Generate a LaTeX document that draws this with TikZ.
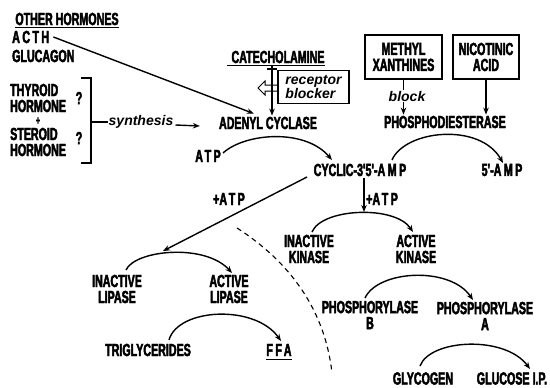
\documentclass[tikz,border=0pt]{standalone}
\usepackage{fontspec}
\usetikzlibrary{arrows.meta}
\newfontfamily\labfont{Liberation Sans}[FakeStretch=0.61, BoldFeatures={FakeBold=2.5}]
\newfontfamily\itlabfont{Liberation Sans}
\newcommand\spc[1]{{\addfontfeature{LetterSpace=14}#1}}
\begin{document}
\begin{tikzpicture}[x=1pt,y=-1pt,
 lab/.style={font=\labfont\bfseries\fontsize{17.5}{16}\selectfont, inner sep=0pt, align=center},
 itl/.style={font=\itlabfont\bfseries\itshape\fontsize{14}{13}\selectfont, inner sep=0pt, align=left},
 ln/.style={line width=1.4pt},
 arr/.style={line width=1.4pt, -{Stealth[length=7pt,width=5.5pt]}},
 box/.style={draw, line width=1.2pt},
]
\useasboundingbox (0,0) rectangle (550,388);
\fill[white] (0,0) rectangle (550,388);

% left hormones
\node[lab] (oh) at (67,19) {OTHER HORMONES};
\draw[ln] ([yshift=-2pt]oh.south west) -- ([yshift=-2pt]oh.south east);
\node[lab, anchor=west] (acth) at (12,37) {\spc{ACTH}};
\node[lab, anchor=west] (gluc) at (12,56) {GLUCAGON};
\node[lab, anchor=west] (thy) at (10,90) {THYROID};
\node[lab, anchor=west] (hor1) at (10,106) {HORMONE};
\node[lab, font=\labfont\bfseries\fontsize{12}{12}\selectfont] (plus) at (38,121) {+};
\node[lab, anchor=west] (ste) at (10,134) {STEROID};
\node[lab, anchor=west] (hor2) at (10,150) {HORMONE};
\node[lab] (q1) at (79,98) {?};
\node[lab] (q2) at (79,138) {?};
\coordinate (bt) at (81,78);
\coordinate (bb) at (81,163);
\coordinate (bm) at (91,122);
\draw[ln] (bt) -- (bt -| bm) -- (bb -| bm) -- (bb);
\node[itl] (syn) at (141,122) {synthesis};
\draw[ln] (bm) -- ([xshift=-1pt]syn.west);

% adenyl cyclase
\node[lab] (ac) at (268,123) {ADENYL CYCLASE};
\draw[arr] ([xshift=2pt,yshift=-3pt]syn.east) -- ([xshift=-19pt,yshift=-3pt]ac.west);
\draw[arr] ([xshift=4pt]acth.east) -- ([xshift=35pt,yshift=3pt]ac.north west);

% catecholamine
\node[lab] (cat) at (278,57) {CATECHOLAMINE};
\draw[ln] ([xshift=-4pt,yshift=-2pt]cat.south west) -- ([yshift=-2pt]cat.south east);
\coordinate (cv) at (272,65);
\draw[arr] (cv) -- ([yshift=1pt]cv |- ac.north);
\node[box, itl, minimum width=71pt, minimum height=33pt, inner xsep=3pt] (rb) at (313.5,87) {receptor\\blocker};
\draw[line width=1.2pt] (267,69) -- (277,69);
\draw[line width=1pt] (rb.west |- 0,85) -- (265,85) -- (265,81) -- (258,88) -- (265,95) -- (265,91) -- (rb.west |- 0,91);

% methyl xanthines / nicotinic acid
\node[box, lab, minimum width=77pt, minimum height=44pt] (mx) at (403.5,57) {METHYL\\XANTHINES};
\node[box, lab, minimum width=66pt, minimum height=44pt] (na) at (486,57) {NICOTINIC\\ACID};
\node[itl] (blk) at (407,96) {block};
\node[lab] (pde) at (445,122) {PHOSPHODIESTERASE};
\draw[ln] (mx.south) -- ([yshift=1pt]blk.north -| mx.south);
\draw[arr] ([yshift=-1pt]blk.south -| mx.south) -- ([yshift=1pt]pde.north -| mx.south);
\draw[arr] (na.south) -- ([yshift=1pt]na.south |- pde.north);

% cyclic AMP
\node[lab] (atp1) at (208,156) {\spc{ATP}};
\node[lab] (cyc) at (360,170) {CYCLIC-3'5'-\spc{AMP}};
\node[lab] (amp5) at (502,170) {5'-\spc{AMP}};
\coordinate (a1s) at (223,153);
\coordinate (a1e) at (332,160);
\draw[arr] (a1s) .. controls (245,133) and (305,128) .. (a1e);
\coordinate (a2s) at (392,160);
\coordinate (a2e) at (503,163);
\draw[arr] (a2s) .. controls (405,130) and (480,122) .. (a2e);

% lipase branch
\node[lab] (patp1) at (229,199) {+\spc{ATP}};
\coordinate (ls) at (307,177);
\coordinate (le) at (163,251);
\draw[arr] (ls) -- (le);
\node[lab] (il) at (117,289) {INACTIVE\\LIPASE};
\node[lab] (al) at (229,289) {ACTIVE\\LIPASE};
\coordinate (l1s) at (126,270);
\coordinate (l1e) at (232,273);
\draw[arr] (l1s) .. controls (135,250) and (205,243) .. (l1e);
\node[lab] (tg) at (148,350) {TRIGLYCERIDES};
\node[lab] (ffa) at (279,350) {\spc{FFA}};
\draw[ln] ([yshift=-3pt]ffa.south west) -- ([yshift=-3pt]ffa.south east);
\coordinate (t1s) at (169,340);
\coordinate (t1e) at (281,341);
\draw[arr] (t1s) .. controls (178,308) and (255,304) .. (t1e);

% kinase branch
\coordinate (ks) at (364,178);
\coordinate (ke) at (364,212);
\draw[arr] (ks) -- (ke);
\node[lab, anchor=west] (patp2) at (366,199) {+\spc{ATP}};
\node[lab] (ik) at (309,249) {INACTIVE\\KINASE};
\node[lab] (ak) at (416,249) {ACTIVE\\KINASE};
\coordinate (k1s) at (312,232);
\coordinate (k1e) at (413,232);
\draw[arr] (k1s) .. controls (322,208) and (395,205) .. (k1e);
\node[lab] (pb) at (370,315) {PHOSPHORYLASE\\B};
\node[lab] (pa) at (485,316) {PHOSPHORYLASE\\A};
\coordinate (p1s) at (365,298);
\coordinate (p1e) at (473,300);
\draw[arr] (p1s) .. controls (378,270) and (450,266) .. (p1e);
\node[lab] (gly) at (423,378.5) {GLYCOGEN};
\node[lab] (glu) at (512,378.5) {GLUCOSE I.P.};
\coordinate (g1s) at (420,366);
\coordinate (g1e) at (530,369);
\draw[arr] (g1s) .. controls (430,339) and (505,335) .. (g1e);

% dashed separator
\coordinate (ds) at (237,228);
\coordinate (de) at (332,373);
\draw[line width=1.1pt, dash pattern=on 5pt off 4pt] (ds) .. controls (290,262) and (325,310) .. (de);
\end{tikzpicture}
\end{document}
